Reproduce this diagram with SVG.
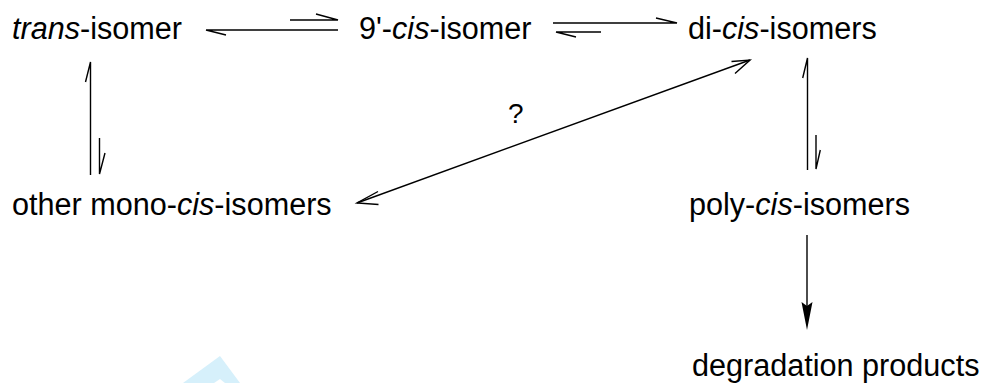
<svg xmlns="http://www.w3.org/2000/svg" width="989" height="383" viewBox="0 0 989 383">
<style>
text{font-family:"Liberation Sans",Arial,Helvetica,sans-serif;font-size:30.6px;fill:#000}
.it{font-style:italic}
.ln{stroke:#000;stroke-width:1.4;fill:none;stroke-linecap:butt}
</style>
<rect width="989" height="383" fill="#fff"/>
<g id="bg-shape">
<path d="M183,383 L220,356 L240,383 L225,383 L220,379 L214,383 Z" fill="#d6f0fb"/>
</g>
<g id="node-trans"><text x="12" y="39"><tspan class="it">trans</tspan>-isomer</text></g>
<g id="node-9cis"><text x="359" y="39">9'-<tspan class="it">cis</tspan>-isomer</text></g>
<g id="node-dicis"><text x="688" y="39">di-<tspan class="it">cis</tspan>-isomers</text></g>
<g id="node-mono"><text x="12" y="215">other mono-<tspan class="it">cis</tspan>-isomers</text></g>
<g id="node-poly"><text x="689" y="215">poly-<tspan class="it">cis</tspan>-isomers</text></g>
<g id="node-degr"><text x="692" y="376">degradation products</text></g>
<g id="connectors">
<!-- trans <-> 9'-cis -->
<path class="ln" d="M338,30 L206,30 L226,35"/>
<path class="ln" d="M290,20 L338,20 L316,14"/>
<!-- 9'-cis <-> di-cis -->
<path class="ln" d="M553,23 L677,23 L656,18"/>
<path class="ln" d="M601,32 L556,32 L576,37"/>
<!-- trans <-> mono -->
<path class="ln" d="M90.5,175 L90.5,62 L85.5,82"/>
<path class="ln" d="M99.5,138 L99.5,174 L105,153"/>
<!-- di-cis <-> poly -->
<path class="ln" d="M807.5,170 L807.5,58 L802.7,78"/>
<path class="ln" d="M816,135 L816,169 L820.3,150"/>
<!-- mono <-> di-cis (?) -->
<path class="ln" d="M357,203 L750,60"/>
<path class="ln" d="M378,191.5 L357,203 L378.5,204.5"/>
<path class="ln" d="M731.5,61.5 L750,60 L735,73.5"/>
<text x="508" y="123" style="font-size:28px">?</text>
<!-- poly -> degradation -->
<path class="ln" d="M807,235 L807,308"/>
<path d="M801.5,302 L807,330 L812.5,302 L807,306 Z" fill="#000"/>
</g>
</svg>
